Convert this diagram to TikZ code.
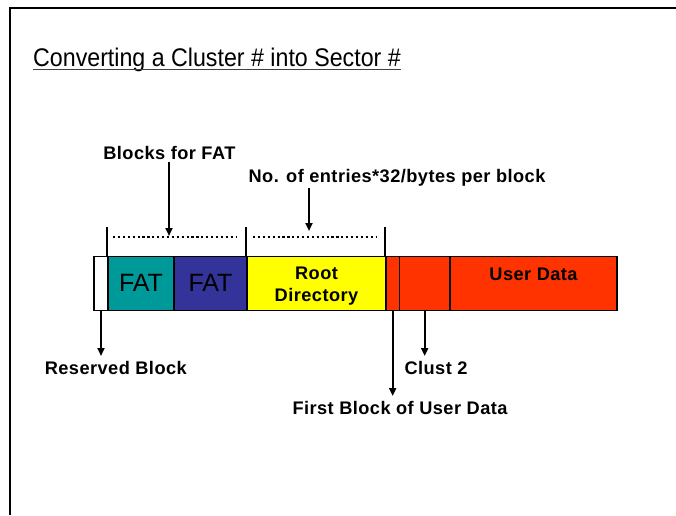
\documentclass[tikz,border=0pt]{standalone}
\usepackage{fontspec}
\setmainfont{Liberation Sans}
\usetikzlibrary{arrows.meta}
\definecolor{fatteal}{RGB}{0,153,153}
\definecolor{fatblue}{RGB}{51,51,153}
\definecolor{rootyellow}{RGB}{255,255,0}
\definecolor{datared}{RGB}{255,51,0}
\newfontfamily\lblfont[LetterSpace=2.5]{Liberation Sans}
\begin{document}
\begin{tikzpicture}[x=1pt,y=-1pt,
  seg/.style={draw=black, line width=1.5pt, minimum height=54.2pt, inner sep=0pt, anchor=center},
  lbl/.style={font=\lblfont\fontsize{18.2}{21}\selectfont\bfseries, inner sep=0pt, anchor=base},
  arr/.style={line width=2.2pt, -{Triangle[length=8pt,width=7pt]}},
  tick/.style={line width=2.4pt},
  dots/.style={line width=2.4pt, dash pattern=on 2.2pt off 2.7pt}
]
\useasboundingbox (0,0) rectangle (676,515);
\fill[white] (0,0) rectangle (676,515);
% frame
\draw[line width=2.8pt] (10,515) -- (10,8) -- (676,8);
% title
\node[inner sep=0pt, anchor=base west, font=\fontsize{25.5}{30}\selectfont] (title) at (33,66.7)
  {\scalebox{0.91}[1]{Converting a Cluster \# into Sector \#}};
\draw[line width=1.5pt, black!75] ([yshift=-3pt]title.base west) -- ([yshift=-3pt]title.base east);
% bar segments
\node[seg, fill=white, minimum width=14pt] (res) at (101,283.6) {};
\node[seg, fill=fatteal, minimum width=66pt, font=\fontsize{25}{30}\selectfont] (fat1) at (141,283.6) {\raisebox{2pt}{FAT}};
\node[seg, fill=fatblue, minimum width=73pt, font=\fontsize{25}{30}\selectfont] (fat2) at (210.5,283.6) {\raisebox{2pt}{FAT}};
\node[seg, fill=rootyellow, minimum width=139pt] (root) at (316.5,283.6) {};
\node[seg, fill=datared, minimum width=13.3pt] (ud1) at (392.65,283.6) {};
\node[seg, fill=datared, minimum width=50.7pt] (ud2) at (424.65,283.6) {};
\node[seg, fill=datared, minimum width=167pt] (ud3) at (533.5,283.6) {};
% texts inside bar
\node[lbl] (roottxt) at (316.5,279.3) {Root};
\node[lbl] (dirtxt) at (316.5,301.5) {Directory};
\node[lbl] (udtxt) at (533.5,280) {User Data};
% ticks above
\draw[tick] (fat1.north west) -- ++(0,-28.5) coordinate (t1);
\draw[tick] (root.north west) -- ++(0,-28.5) coordinate (t2);
\draw[tick] (ud1.north west) -- ++(0,-28.5) coordinate (t3);
% dotted spans
\coordinate (d1a) at (113,237);
\coordinate (d1b) at (236,237);
\coordinate (d2a) at (253,237);
\coordinate (d2b) at (376,237);
\draw[dots] (d1a) -- (d1b);
\draw[dots] (d2a) -- (d2b);
% top labels
\node[lbl] (bfat) at (169.4,159.5) {Blocks for FAT};
\node[lbl] (noent) at (397,182.5) {No. of entries*32/bytes per block};
\coordinate (a1) at (169,236);
\coordinate (a2) at (309,231);
\draw[arr] (bfat.south -| a1) ++(0,2) -- (a1);
\draw[arr] (noent.south -| a2) ++(0,1.5) -- (a2);
% bottom labels
\node[lbl] (resl) at (115.8,374) {Reserved Block};
\node[lbl] (clust) at (436,374) {Clust 2};
\node[lbl] (first) at (400,414) {First Block of User Data};
\draw[arr] (res.south) -- (res.south |- 0,356);
\draw[arr] (ud2.south) -- (ud2.south |- 0,356);
\draw[arr] (ud1.south) -- (ud1.south |- 0,396);
\end{tikzpicture}
\end{document}
